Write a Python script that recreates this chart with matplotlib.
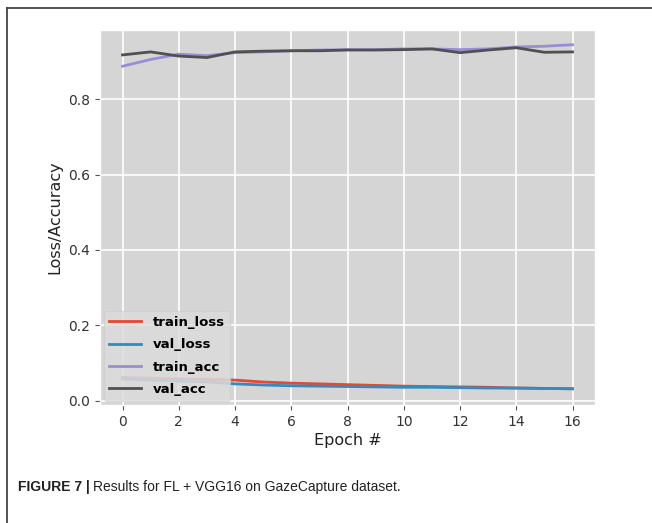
import numpy as np
import matplotlib
matplotlib.use("Agg")
import matplotlib.pyplot as plt
from matplotlib.lines import Line2D

plt.style.use("ggplot")

epochs = list(range(17))
train_loss = [0.062, 0.060, 0.058, 0.057, 0.055, 0.050, 0.047, 0.045, 0.043,
              0.041, 0.039, 0.038, 0.037, 0.036, 0.034, 0.033, 0.032]
val_loss = [0.058, 0.055, 0.052, 0.050, 0.045, 0.042, 0.040, 0.039, 0.038,
            0.037, 0.036, 0.036, 0.035, 0.034, 0.034, 0.033, 0.032]
train_acc = [0.887, 0.905, 0.919, 0.915, 0.923, 0.925, 0.928, 0.930, 0.931,
             0.931, 0.933, 0.933, 0.931, 0.933, 0.938, 0.940, 0.944]
val_acc = [0.917, 0.925, 0.914, 0.910, 0.925, 0.927, 0.928, 0.928, 0.930,
           0.930, 0.931, 0.933, 0.923, 0.930, 0.936, 0.924, 0.925]

fig = plt.figure(figsize=(6.52, 5.23), dpi=100)
fig.patch.set_facecolor("white")
ax = fig.add_axes([0.1534, 0.2256, 0.7592, 0.717])
ax.set_facecolor("#d5d5d5")

ax.plot(epochs, train_loss, color="#E24A33", lw=2, label="train_loss")
ax.plot(epochs, val_loss, color="#348ABD", lw=2, label="val_loss")
ax.plot(epochs, train_acc, color="#988ED5", lw=2, label="train_acc")
ax.plot(epochs, val_acc, color="#505050", lw=2, label="val_acc")

ax.set_xlim(-0.8, 16.8)
ax.set_ylim(-0.011, 0.983)
ax.set_xticks(range(0, 17, 2))
ax.set_yticks([0.0, 0.2, 0.4, 0.6, 0.8])
ax.tick_params(labelsize=10, labelcolor="#333333", color="#555555")
ax.grid(True, color="white", lw=1.2)
ax.set_xlabel("Epoch #", fontsize=11.5, color="#222222", labelpad=3)
ax.set_ylabel("Loss/Accuracy", fontsize=11.5, color="#222222", labelpad=4)

leg = ax.legend(loc="lower left", prop={"weight": "bold", "size": 9.5},
                borderaxespad=0.3, framealpha=0.85, labelspacing=0.7,
                handlelength=2.4, handletextpad=0.9)
leg.get_frame().set_facecolor("#dcdcdc")
leg.get_frame().set_edgecolor("#cccccc")

# figure frame (top and left rules)
fig.add_artist(Line2D([7 / 652, 7 / 652], [0, 1 - 8 / 523],
                      transform=fig.transFigure, color="#444444", lw=1.3))
fig.add_artist(Line2D([7 / 652, 1], [1 - 8 / 523, 1 - 8 / 523],
                      transform=fig.transFigure, color="#444444", lw=1.3))

cap_font = ["Liberation Sans Narrow", "Liberation Sans", "DejaVu Sans"]
t = fig.text(18 / 652, 1 - 487 / 523, "FIGURE 7 |", fontsize=10,
             fontweight="bold", family=cap_font, va="center", color="#222222")
fig.canvas.draw()
bb = t.get_window_extent()
fig.text((bb.x1 + 3) / fig.bbox.width, 1 - 487 / 523,
         "Results for FL + VGG16 on GazeCapture dataset.", fontsize=10,
         family=cap_font, va="center", color="#222222")

fig.savefig("out.png", dpi=100)
